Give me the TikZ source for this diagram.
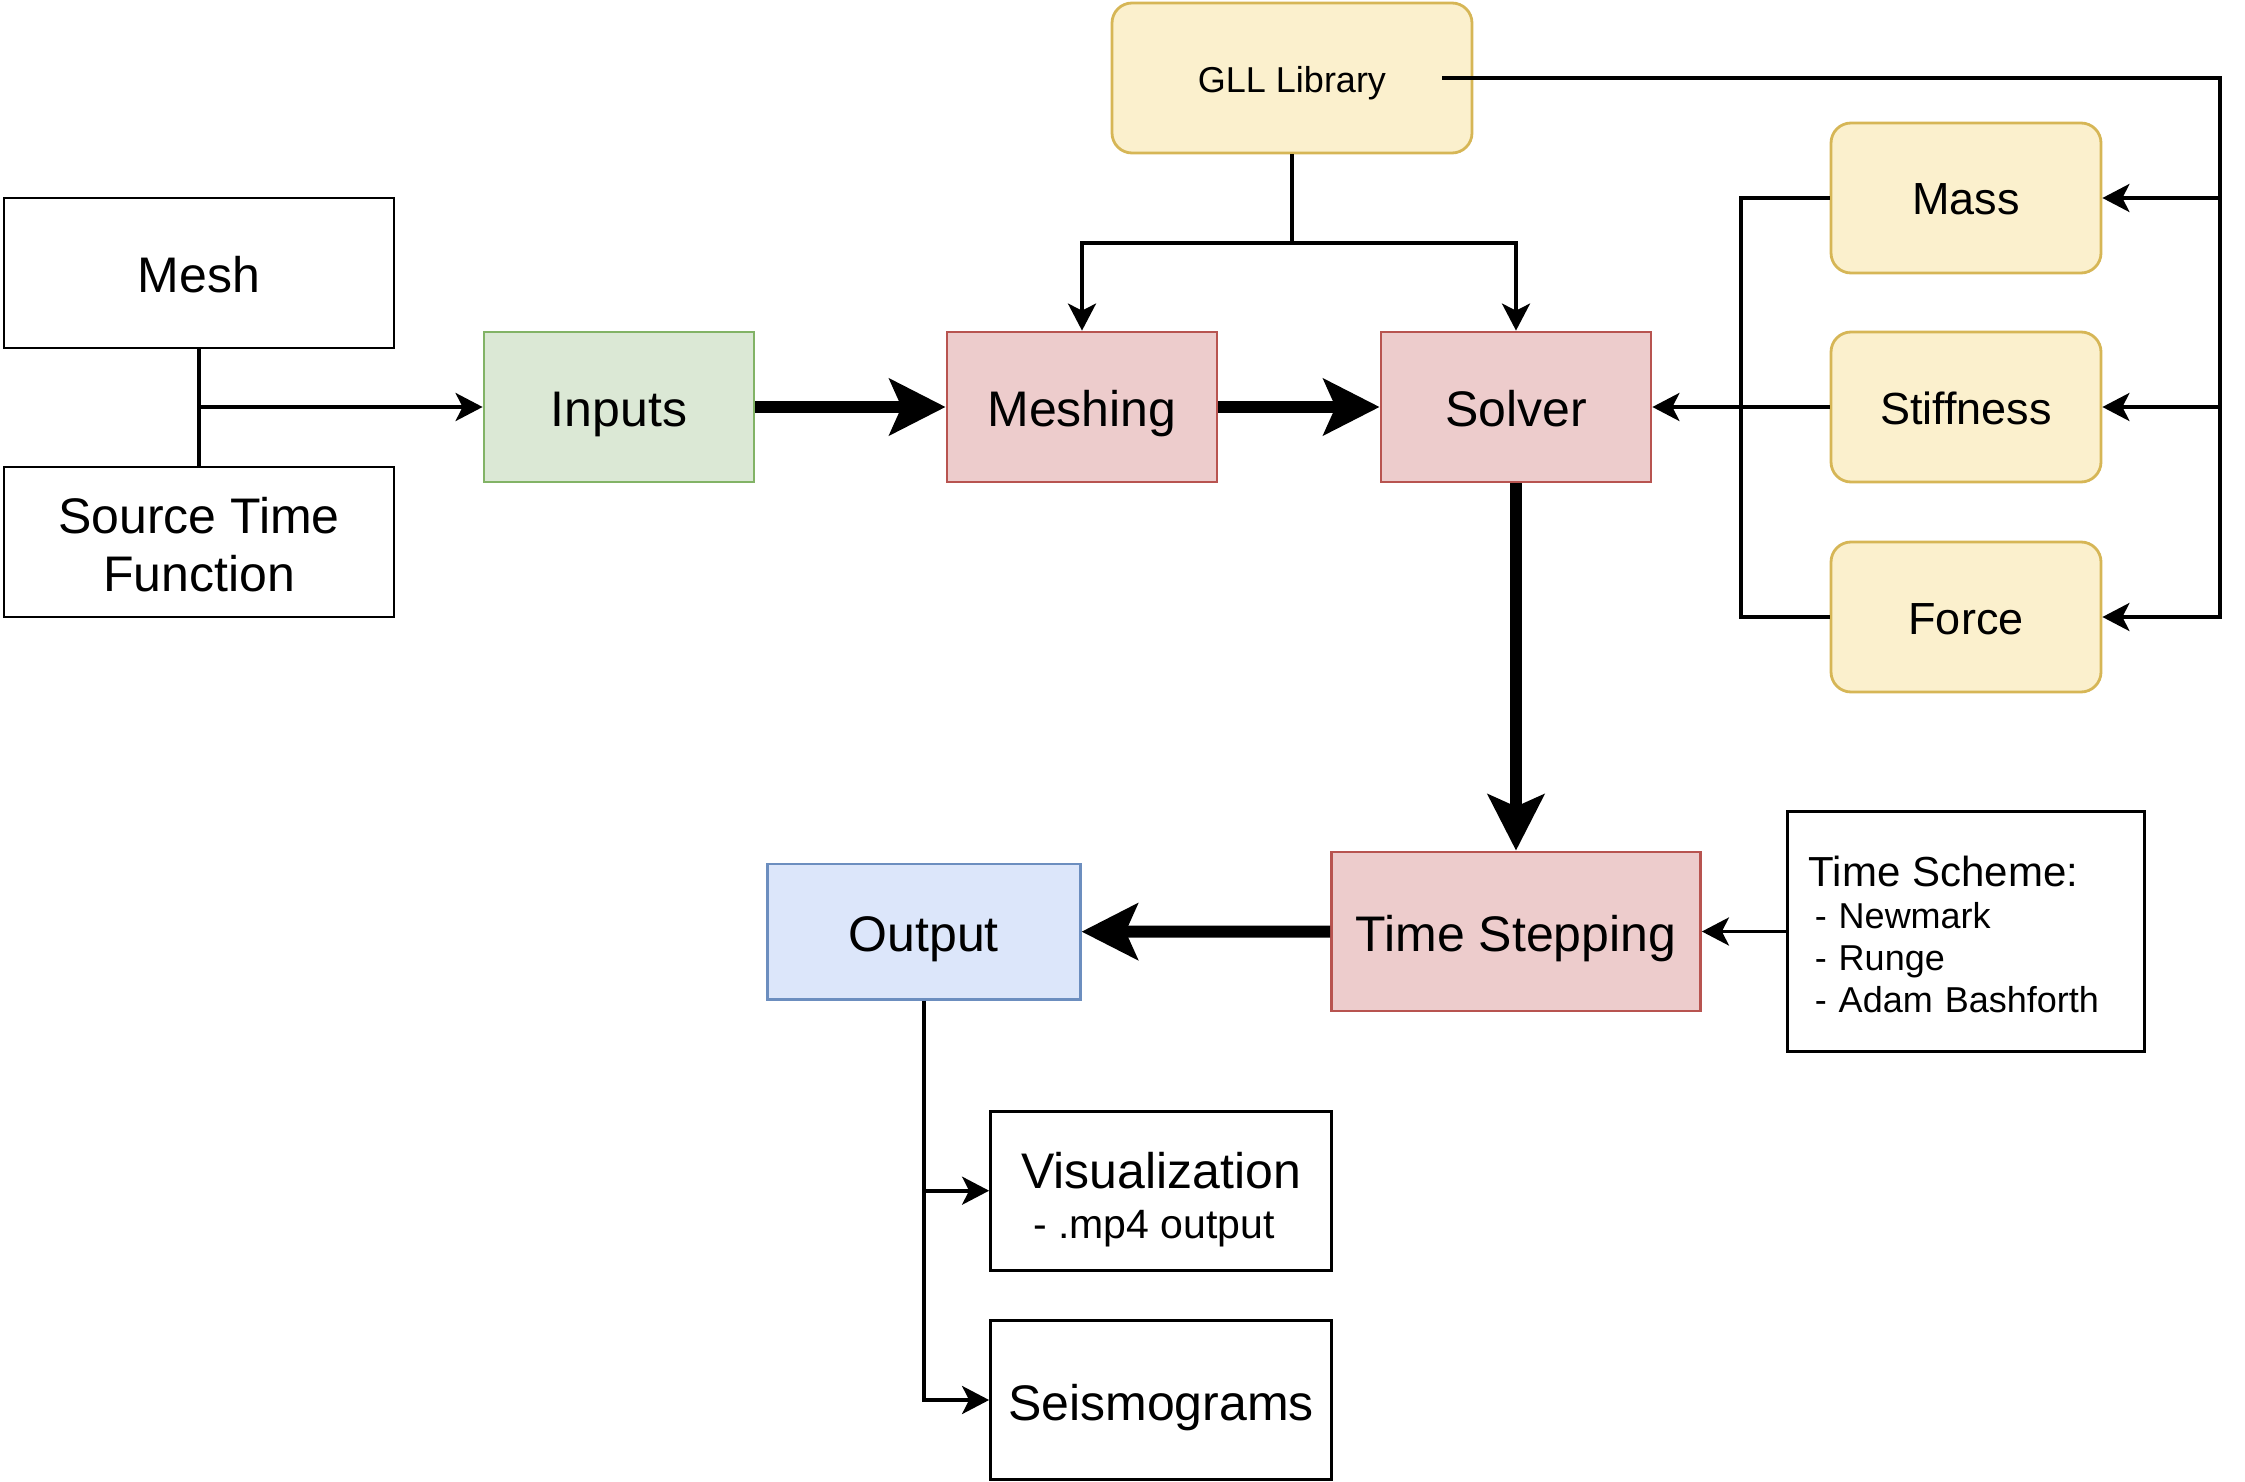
\documentclass[tikz,border=0pt]{standalone}
\usepackage{fontspec}
\setmainfont{Liberation Sans}
\usetikzlibrary{arrows.meta}
\definecolor{gfill}{HTML}{DBE8D5}\definecolor{gdraw}{HTML}{82B366}
\definecolor{rfill}{HTML}{EDCCCC}\definecolor{rdraw}{HTML}{B85450}
\definecolor{yfill}{HTML}{FBF0CD}\definecolor{ydraw}{HTML}{D6B656}
\definecolor{bfill}{HTML}{DCE6FA}\definecolor{bdraw}{HTML}{6C8EBF}
\begin{document}
\begin{tikzpicture}[x=0.5pt,y=-0.5pt,
  box/.style={draw=black, line width=1.4pt, rectangle, inner sep=0pt,
    minimum width=135pt, minimum height=75pt,
    font=\fontsize{25}{29}\selectfont, align=center},
  oneline/.style={box, text height=22.5pt, text depth=2.5pt},
  greenbox/.style={oneline, fill=gfill, draw=gdraw},
  redbox/.style={oneline, fill=rfill, draw=rdraw},
  bluebox/.style={oneline, fill=bfill, draw=bdraw},
  yellowbox/.style={box, fill=yfill, draw=ydraw, rounded corners=10pt,
    font=\fontsize{22.5}{27}\selectfont, text height=20pt, text depth=3pt},
  thinline/.style={line width=1.8pt},
  thinarrow/.style={line width=1.8pt, -{Stealth[length=13.5pt, width=14pt, inset=3.5pt]}},
  thickarrow/.style={line width=6pt, -{Stealth[length=28pt, width=28pt, inset=6pt]}}
]
\useasboundingbox (0,0) rectangle (2245,1482);

% nodes
\node[oneline, minimum width=195pt] (mesh) at (199,273) {Mesh};
\node[box, minimum width=195pt] (stf) at (199,542) {\rule{0pt}{21pt}Source Time\\Function};
\node[greenbox] (inputs) at (619,407) {Inputs};
\node[redbox] (meshing) at (1082,407) {Meshing};
\node[redbox] (solver) at (1516,407) {Solver};
\node[yellowbox, minimum width=180pt, font=\fontsize{18}{21}\selectfont,
      text height=16.2pt, text depth=1.8pt] (gll) at (1292,78) {GLL Library};
\node[yellowbox] (mass) at (1966,198) {Mass};
\node[yellowbox] (stiff) at (1966,407) {Stiffness};
\node[yellowbox] (force) at (1966,617) {Force};
\node[redbox, minimum width=184.5pt, minimum height=79.5pt] (ts) at (1516,931.5) {Time Stepping};
\node[box, minimum width=178.75pt, minimum height=120pt, inner xsep=10.75pt,
      text width=157.25pt, align=left, font=\fontsize{18}{21}\selectfont] (scheme) at (1966,931.5)
  {{\fontsize{21}{21}\selectfont\rule{0pt}{18.5pt}Time Scheme:}\\
   \hspace*{3pt}- Newmark\\
   \hspace*{3pt}- Runge\\
   \hspace*{3pt}- Adam Bashforth};
\node[bluebox, minimum width=156.5pt, minimum height=67.75pt] (output) at (923.7,931.7) {Output};
\node[box, minimum width=170.5pt, minimum height=79.5pt, font=\fontsize{25}{25}\selectfont] (vis) at (1161,1190.7)
  {\rule{0pt}{27pt}Visualization\\{\fontsize{20.5}{25}\selectfont - .mp4 output\hspace*{7pt}}};
\node[oneline, minimum width=170.5pt, minimum height=79.5pt] (seis) at (1161,1400) {Seismograms};

% coordinates
\coordinate (j1) at (199,407);
\coordinate (j2) at (1292,243);
\coordinate (gllr) at (1442,78);
\coordinate (busr) at (2220,78);
\coordinate (busl) at (1741,198);

% connectors
\draw[thinline] (mesh) -- (stf);
\draw[thinarrow] (j1) -- (inputs.west);
\draw[thickarrow] (inputs) -- (meshing);
\draw[thickarrow] (meshing) -- (solver);
\draw[thinline] (gll.south) -- (j2);
\draw[thinarrow] (j2) -| (meshing.north);
\draw[thinarrow] (j2) -| (solver.north);
\draw[thinarrow] (gllr) -- (busr) |- (force.east);
\draw[thinarrow] (busr |- mass.east) -- (mass.east);
\draw[thinarrow] (busr |- stiff.east) -- (stiff.east);
\draw[thinline] (mass.west) -- (busl) |- (force.west);
\draw[thinarrow] (stiff.west) -- (solver.east);
\draw[thickarrow] (solver) -- (ts);
\draw[thickarrow] (ts) -- (output);
\draw[thinarrow] (scheme) -- (ts);
\draw[thinarrow] (output.south) |- (vis.west);
\draw[thinarrow] (output.south) |- (seis.west);
\end{tikzpicture}
\end{document}
